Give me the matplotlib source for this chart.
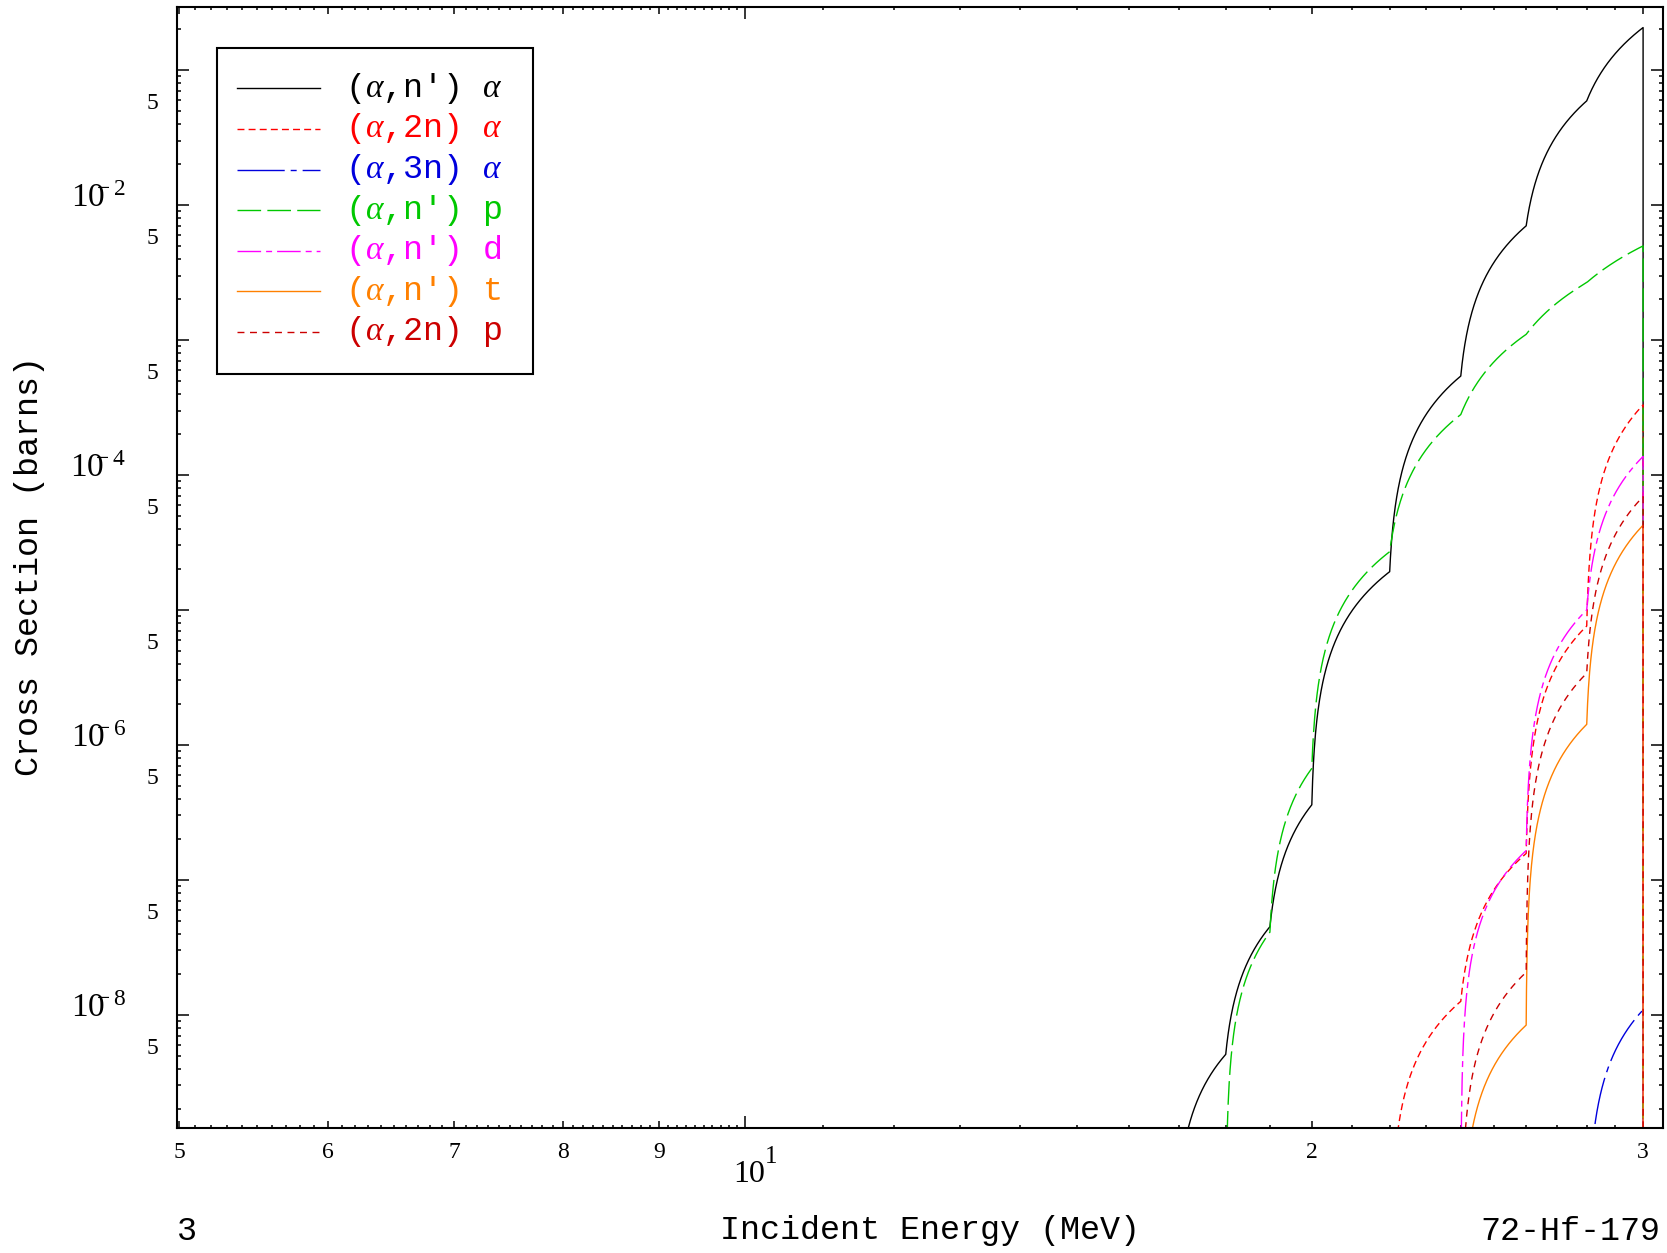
import numpy as np
import matplotlib
matplotlib.use("Agg")
import matplotlib.pyplot as plt
import matplotlib.transforms as mtransforms
from matplotlib.path import Path
from matplotlib.lines import Line2D
from matplotlib.patches import Rectangle

# ===============================
# DATA : energy in MeV, cross section in barns
# ===============================
E_NA = [17, 18, 19, 20, 22, 24, 26, 28, 30]          # (a,n') alpha
S_NA = [5.8e-10, 5.1e-9, 4.5e-8, 3.6e-7, 1.92e-5, 5.4e-4, 7.0e-3, 5.9e-2, 0.206]

E_2NA = [22, 24, 26, 28, 30]                         # (a,2n) alpha
S_2NA = [0.0, 1.26e-8, 1.57e-7, 7.6e-6, 3.3e-4]

E_3NA = [28, 30]                                     # (a,3n) alpha
S_3NA = [0.0, 1.09e-8]

E_NP = [18, 19, 20, 22, 24, 26, 28, 30]              # (a,n') p
S_NP = [0.0, 4.1e-8, 6.7e-7, 2.7e-5, 2.8e-4, 1.1e-3, 2.66e-3, 4.97e-3]

E_ND = [24, 26, 28, 30]                              # (a,n') d
S_ND = [0.0, 1.65e-7, 1.0e-5, 1.37e-4]

E_NT = [24, 26, 28, 30]                              # (a,n') t
S_NT = [0.0, 8.4e-9, 1.42e-6, 4.24e-5]

E_2NP = [24, 26, 28, 30]                             # (a,2n) p
S_2NP = [0.0, 2.07e-8, 3.4e-6, 6.9e-5]

LABELS = [r"($\alpha$,n') $\alpha$", r"($\alpha$,2n) $\alpha$", r"($\alpha$,3n) $\alpha$",
          r"($\alpha$,n') p", r"($\alpha$,n') d", r"($\alpha$,n') t", r"($\alpha$,2n) p"]

X_TICKS = [5, 6, 7, 8, 9, 10, 20, 30]
X_TICK_LABELS = ["5", "6", "7", "8", "9", "", "2", "3"]
Y_DECADES = [-2, -4, -6, -8]
Y_FIVES = [-2, -3, -4, -5, -6, -7, -8, -9]

XLIM = (4.985, 30.74)
YLIM = (1.46e-9, 0.294)

# ===============================
# STYLE
# ===============================
MONO = "Liberation Mono"
SERIF = "Liberation Serif"
W, H = 1667, 1253

plt.rcParams["mathtext.fontset"] = "custom"
plt.rcParams["mathtext.rm"] = "Liberation Serif"
plt.rcParams["mathtext.it"] = "Liberation Serif:italic"
plt.rcParams["mathtext.bf"] = "Liberation Serif:bold"

series = [
    (E_NA, S_NA, "black", None),
    (E_2NA, S_2NA, "#ff0000", (5, 3)),
    (E_3NA, S_3NA, "#0000dd", (34, 4.3, 4.3, 4.3)),
    (E_NP, S_NP, "#00c800", (17, 4.5)),
    (E_ND, S_ND, "#ff00ff", (17, 3.6, 4.3, 3.6)),
    (E_NT, S_NT, "#ff8000", None),
    (E_2NP, S_2NP, "#cc0000", (5, 4)),
]

fig = plt.figure(figsize=(W / 100, H / 100), dpi=100)
ax = fig.add_axes([176.7 / W, 1 - 1127.7 / H, (1663 - 176.7) / W, (1127.7 - 6.7) / H])
ax.set_xscale("log")
ax.set_yscale("log")


def style_of(dashes):
    return "-" if dashes is None else (0, dashes)


# ===============================
# CURVES
# ===============================
for e, s, color, dashes in series:
    # the original plot joins points with straight lines in linear space,
    # so let Path resample each segment before the log transform
    pts = Path(np.column_stack([e, s])).interpolated(200).vertices
    x = np.append(pts[:, 0], e[-1])
    y = np.append(pts[:, 1], 0.0)  # file ends at 30 MeV -> drop to axis
    ax.plot(x, y, color=color, lw=1.0, ls=style_of(dashes))

ax.set_xlim(*XLIM)
ax.set_ylim(*YLIM)

# ===============================
# TICKS
# ===============================
minor_x = [v / 10 for v in range(51, 100) if v % 10] + [v for v in range(11, 30) if v != 20]
ax.set_xticks(X_TICKS)
ax.set_xticklabels(X_TICK_LABELS, fontfamily=SERIF, fontsize=17)
ax.set_xticks(minor_x, minor=True)
ax.xaxis.set_minor_formatter(plt.NullFormatter())

ax.set_yticks([10.0 ** k for k in range(-9, 1)])
ax.set_yticklabels([])
ax.set_yticks([m * 10.0 ** k for k in range(-10, 0) for m in range(2, 10)], minor=True)
ax.yaxis.set_minor_formatter(plt.NullFormatter())
ax.set_ylim(*YLIM)

ax.tick_params(which="both", direction="in", top=True, right=True, width=1.1)
ax.tick_params(axis="x", which="major", length=4.8, pad=10)
ax.tick_params(axis="x", which="minor", length=2.4)
ax.tick_params(axis="y", which="major", length=8.3)
ax.tick_params(axis="y", which="minor", length=3.2)

for t in ax.xaxis.get_major_ticks():
    if t.get_loc() == 10:
        t.tick1line.set_markersize(8.4)
        t.tick2line.set_markersize(8.4)

for sp in ax.spines.values():
    sp.set_linewidth(1.5)

# x "10^1"
xt = ax.get_xaxis_transform()
ax.text(10, 0, "10", transform=mtransforms.offset_copy(xt, fig=fig, x=4, y=-47, units="dots"),
        fontfamily=SERIF, fontsize=23, ha="center", va="center")
ax.text(10, 0, "1", transform=mtransforms.offset_copy(xt, fig=fig, x=26, y=-29, units="dots"),
        fontfamily=SERIF, fontsize=18, ha="center", va="center")

# y labels: 10^-n on even decades, "5" on every 5x10^n
yt = ax.get_yaxis_transform()
ax_w = 1663 - 176.7
for k in Y_DECADES:
    tr = mtransforms.offset_copy(yt, fig=fig, x=0, y=-2, units="dots")
    ax.text((126 - 176.7) / ax_w, 10.0 ** k, r"$\mathregular{10^{\!\!\!\!-%d}}$" % (-k),
            transform=tr, fontfamily=SERIF, fontsize=24, ha="right", va="baseline")

for k in Y_FIVES:
    tr = mtransforms.offset_copy(yt, fig=fig, x=0, y=7.5, units="dots")
    ax.text((152 - 176.7) / ax_w, 5 * 10.0 ** k, "5", transform=tr,
            fontfamily=SERIF, fontsize=17, ha="center", va="center")

# ===============================
# AXIS TEXT
# ===============================
fig.text(930 / W, 1 - 1231 / H, "Incident Energy (MeV)", fontfamily=MONO,
         fontsize=24, ha="center", va="center")
fig.text(30 / W, 1 - 566 / H, "Cross Section (barns)", fontfamily=MONO,
         fontsize=24, ha="center", va="center", rotation=90)
fig.text(177 / W, 1 - 1231 / H, "3", fontfamily=MONO, fontsize=24,
         ha="left", va="center")
fig.text(1660 / W, 1 - 1231 / H, "72-Hf-179", fontfamily=MONO, fontsize=24,
         ha="right", va="center")

# ===============================
# LEGEND (drawn by hand, coloured text)
# ===============================
fig.add_artist(Rectangle((217.3 / W, 1 - 374 / H), (533 - 217.3) / W, (374 - 48.3) / H,
                         transform=fig.transFigure, fill=False, lw=1.5, ec="black"))
for i, (lab, (e, s, color, dashes)) in enumerate(zip(LABELS, series)):
    yy = 1 - (88.3 + 40.6 * i) / H
    fig.add_artist(Line2D([237 / W, 320 / W], [yy, yy], transform=fig.transFigure,
                          color=color, lw=1.0, ls=style_of(dashes)))
    fig.text(345 / W, yy, lab, color=color, fontfamily=MONO, fontsize=24,
             ha="left", va="center")

fig.savefig("out.png", dpi=100)
